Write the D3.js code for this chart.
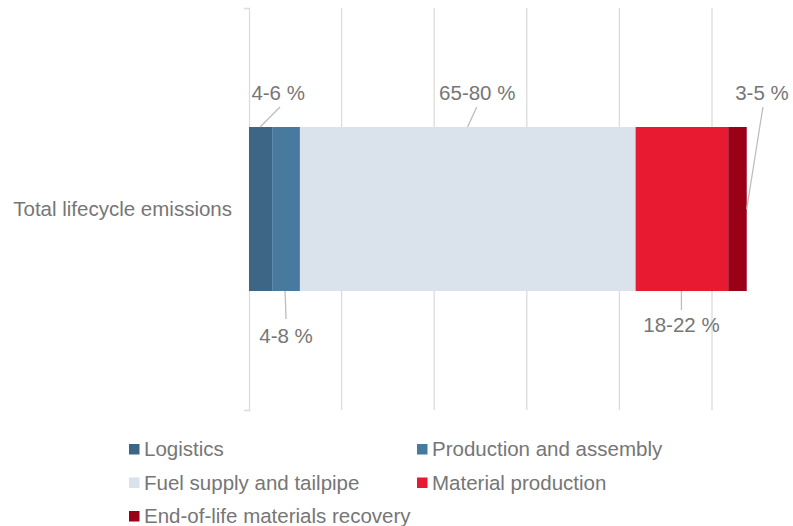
<!DOCTYPE html>
<html>
<head>
<meta charset="utf-8">
<script src="https://cdn.jsdelivr.net/npm/d3@7"></script>
<style>
  html, body { margin: 0; padding: 0; background: #fff; }
  svg { display: block; font-family: "Liberation Sans", Arial, sans-serif; }
</style>
</head>
<body>
<svg id="chart" width="793" height="526"></svg>
<script>
// Lifecycle emission shares (midpoints of the labelled ranges)
const categories = ["Total lifecycle emissions"];
const seriesNames = ["Logistics", "Production and assembly", "Fuel supply and tailpipe", "Material production", "End-of-life materials recovery"];
const seriesValues = [5, 6, 72.5, 20, 4];
const rangeLabels = ["4-6 %", "4-8 %", "65-80 %", "18-22 %", "3-5 %"];
const seriesColors = ["#3d6586", "#48799f", "#dae2ec", "#e81a32", "#9a0016"];
const xTicks = [0, 20, 40, 60, 80, 100];

const svg = d3.select("#chart");
const textColor = "#767676";
const gridColor = "#dcdcdc";
const fontSize = 20.5;

const x = d3.scaleLinear().domain([0, 100]).range([249, 712]);
const y = d3.scaleBand().domain(categories).range([8, 410]).paddingInner(0).paddingOuter(0.7256);

// vertical gridlines
svg.append("g").selectAll("line")
  .data(xTicks.slice(1))
  .join("line")
  .attr("x1", d => x(d)).attr("x2", d => x(d))
  .attr("y1", 8).attr("y2", 410)
  .attr("stroke", gridColor).attr("stroke-width", 1.3);

// category axis
const yAxis = svg.append("g")
  .attr("transform", `translate(${x(0)},0)`)
  .call(d3.axisLeft(y).tickSize(0).tickSizeOuter(5).tickPadding(17));
yAxis.select(".domain").attr("stroke", gridColor).attr("stroke-width", 1.3);
yAxis.selectAll("text").attr("font-size", fontSize).attr("fill", textColor)
  .attr("font-family", "Liberation Sans, Arial, sans-serif");

// stacked segments
const starts = d3.cumsum([0, ...seriesValues]);
const segs = seriesValues.map((v, i) => ({ i, v, x0: starts[i], x1: starts[i] + v }));
const cat = categories[0];
svg.append("g").selectAll("rect")
  .data(segs)
  .join("rect")
  .attr("x", d => x(d.x0))
  .attr("width", d => x(d.x1) - x(d.x0))
  .attr("y", y(cat))
  .attr("height", y.bandwidth())
  .attr("fill", d => seriesColors[d.i]);

// range labels with leader lines
const barTop = y(cat), barBot = y(cat) + y.bandwidth(), barMid = y(cat) + y.bandwidth() / 2;
const callouts = [
  { i: 0, ax: x(starts[0] + 2.4), ay: barTop, bx: x(starts[0] + 6.7), by: barTop - 20, tx: x(starts[0] + 6.3), ty: barTop - 27 },
  { i: 1, ax: x(starts[1] + 2.8), ay: barBot, bx: x(starts[1] + 3.0), by: barBot + 28, tx: x(starts[1] + 3.0), ty: barBot + 52 },
  { i: 2, ax: x(starts[2] + 36.2), ay: barTop, bx: x(starts[2] + 38.2), by: barTop - 20, tx: x(starts[2] + 38.3), ty: barTop - 27 },
  { i: 3, ax: x(starts[3] + 9.9), ay: barBot, bx: x(starts[3] + 9.9), by: barBot + 19, tx: x(starts[3] + 9.9), ty: barBot + 41 },
  { i: 4, ax: x(starts[5]), ay: barMid, bx: x(starts[4] + 7.5), by: barTop - 20, tx: x(starts[4] + 7.3), ty: barTop - 27 }
];
const lab = svg.append("g");
lab.selectAll("line")
  .data(callouts)
  .join("line")
  .attr("x1", d => d.ax).attr("y1", d => d.ay)
  .attr("x2", d => d.bx).attr("y2", d => d.by)
  .attr("stroke", "#bdbdbd").attr("stroke-width", 1.3);
lab.selectAll("text")
  .data(callouts)
  .join("text")
  .attr("x", d => d.tx).attr("y", d => d.ty)
  .attr("text-anchor", "middle")
  .attr("font-size", fontSize).attr("fill", textColor)
  .text(d => rangeLabels[d.i]);

// legend
const legendPos = [
  { x: 129, y: 449 }, { x: 417, y: 449 },
  { x: 129, y: 482.5 }, { x: 417, y: 482.5 },
  { x: 129, y: 516 }
];
const legend = svg.append("g").selectAll("g")
  .data(seriesNames)
  .join("g")
  .attr("transform", (d, i) => `translate(${legendPos[i].x},${legendPos[i].y})`);
legend.append("rect")
  .attr("x", 0).attr("y", -5).attr("width", 10.5).attr("height", 10.5)
  .attr("fill", (d, i) => seriesColors[i]);
legend.append("text")
  .attr("x", 15).attr("y", 0).attr("dy", "0.35em")
  .attr("font-size", fontSize).attr("fill", textColor)
  .text(d => d);
</script>
</body>
</html>
